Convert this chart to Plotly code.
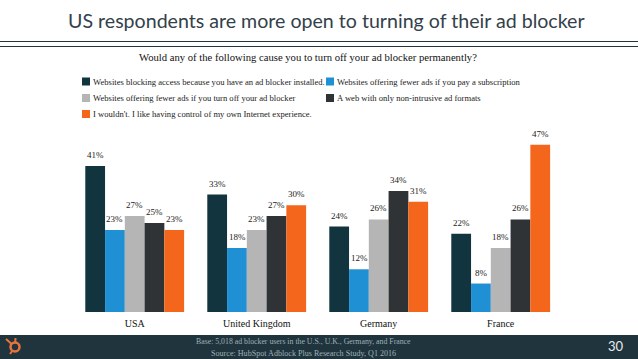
import plotly.graph_objects as go

categories = ["USA", "United Kingdom", "Germany", "France"]
series_names = [
    "Websites blocking access because you have an ad blocker installed.",
    "Websites offering fewer ads if you pay a subscription",
    "Websites offering fewer ads if you turn off your ad blocker",
    "A web with only non-intrusive ad formats",
    "I wouldn't. I like having control of my own Internet experience.",
]
series_values = [
    [41, 33, 24, 22],
    [23, 18, 12, 8],
    [27, 23, 26, 18],
    [25, 27, 34, 26],
    [23, 30, 31, 47],
]
series_colors = ["#12343f", "#2090d5", "#b5b5b5", "#2f3335", "#f4661b"]
title = "US respondents are more open to turning of their ad blocker"
subtitle = "Would any of the following cause you to turn off your ad blocker permanently?"
footer_lines = [
    "Base: 5,018 ad blocker users in the U.S., U.K., Germany, and France",
    "Source: HubSpot Adblock Plus Research Study, Q1 2016",
]
page_number = "30"

W, H = 638, 359
SERIF = "Liberation Serif"
SANS = "Lato"

def px(x):
    return x / W

def py(y):
    return 1 - y / H

fig = go.Figure()
for name, vals, col in zip(series_names, series_values, series_colors):
    fig.add_bar(x=categories, y=vals, name=name, marker=dict(color=col, line=dict(width=0)))

shapes = [
    dict(type="rect", xref="paper", yref="paper", x0=0, x1=1, y0=0, y1=py(335),
         fillcolor="#20343e", line_width=0),
    dict(type="line", xref="paper", yref="paper", x0=0, x1=1, y0=py(41.5), y1=py(41.5),
         line=dict(color="#20343e", width=1)),
    dict(type="line", xref="paper", yref="paper", x0=0, x1=1, y0=py(46.5), y1=py(46.5),
         line=dict(color="#20343e", width=1)),
]
# HubSpot sprocket logo, in the footer
LOGO = "#e8743b"
for x0, y0, x1, y1 in [(6, 339, 15, 347), (15.5, 338, 15, 347), (10, 354, 15, 347)]:
    shapes.append(dict(type="line", xref="paper", yref="paper", x0=px(x0), y0=py(y0), x1=px(x1), y1=py(y1),
                       line=dict(color=LOGO, width=2)))
shapes.append(dict(type="circle", xref="paper", yref="paper", x0=px(10.5), x1=px(19.5), y0=py(351.5), y1=py(342.5),
                   fillcolor="#20343e", line=dict(color=LOGO, width=2.5)))

annotations = [
    dict(text=title, x=px(326), y=py(20), showarrow=False, xanchor="center", yanchor="middle",
         font=dict(family=SANS, size=19.6, color="#33414a")),
    dict(text=subtitle, x=px(307.7), y=py(57), showarrow=False, xanchor="center", yanchor="middle",
         font=dict(family=SERIF, size=10.65, color="#111111")),
    dict(text=footer_lines[0], x=px(303.5), y=py(341), showarrow=False, xanchor="center", yanchor="middle",
         font=dict(family=SERIF, size=7.8, color="#9fb0b6")),
    dict(text=footer_lines[1], x=px(303.5), y=py(353), showarrow=False, xanchor="center", yanchor="middle",
         font=dict(family=SERIF, size=8.1, color="#9fb0b6")),
    dict(text=page_number, x=px(616), y=py(346), showarrow=False, xanchor="center", yanchor="middle",
         font=dict(family=SANS, size=13, color="#e8ecee")),
]
legend_pos = [(82, 81.5), (326, 81.5), (82, 98), (326, 98), (82, 114)]
for (lx, ly), name, col in zip(legend_pos, series_names, series_colors):
    shapes.append(dict(type="rect", xref="paper", yref="paper", x0=px(lx), x1=px(lx + 8),
                       y0=py(ly + 4), y1=py(ly - 4), fillcolor=col, line_width=0))
    annotations.append(dict(text=name, x=px(lx + 9), y=py(ly), showarrow=False, xanchor="left",
                            yanchor="middle", font=dict(family=SERIF, size=8.6, color="#222222")))
for a in annotations:
    a.update(xref="paper", yref="paper")

# Value labels sit above each bar, placed from the data through the axes
BAR_PX = 19.7
for s, vals in enumerate(series_values):
    for cat, v in zip(categories, vals):
        annotations.append(dict(text=f"{v}%", x=cat, y=v, xref="x", yref="y", showarrow=False,
                                xshift=(s - 2) * BAR_PX, yshift=11, xanchor="center", yanchor="middle",
                                font=dict(family=SERIF, size=9, color="#222222")))

fig.update_layout(
    width=W, height=H, autosize=False, margin=dict(l=0, r=0, t=0, b=0),
    paper_bgcolor="white", plot_bgcolor="white", showlegend=False,
    barmode="group", bargap=0.19, bargroupgap=0, shapes=shapes, annotations=annotations,
    xaxis=dict(domain=[px(73.7), px(561.7)], showgrid=False, zeroline=False, showline=False,
               ticks="", ticklabelstandoff=4, tickfont=dict(family=SERIF, size=10, color="#111111")),
    yaxis=dict(domain=[py(312), py(134)], range=[0, 50], visible=False),
)
fig.write_html("out.html", config={"displayModeBar": False},
               post_script="document.body.style.margin='0';")
